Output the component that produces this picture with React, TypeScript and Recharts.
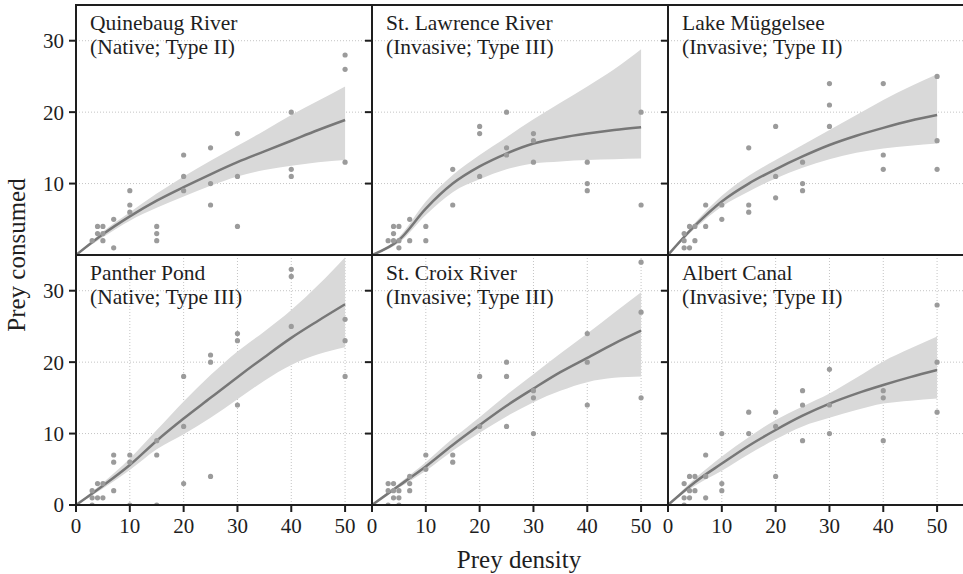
import React from "react";
import {
  ComposedChart,
  Area,
  Line,
  Scatter,
  XAxis,
  YAxis,
  CartesianGrid,
} from "recharts";

const FIT_X = [0, 5, 10, 15, 20, 25, 30, 35, 40, 45, 50];

const X_TICKS = [0, 10, 20, 30, 40, 50];
const Y_TICKS = [0, 10, 20, 30];

// Quinebaug River
const quinebaugPts: [number, number][] = [
  [3, 2], [4, 4], [4, 3], [5, 4], [5, 3], [5, 2], [7, 1], [7, 5],
  [10, 9], [10, 7], [10, 6], [15, 4], [15, 3], [15, 2],
  [20, 14], [20, 11], [20, 9], [25, 15], [25, 10], [25, 7],
  [30, 17], [30, 11], [30, 4], [40, 20], [40, 12], [40, 11],
  [50, 28], [50, 26], [50, 13],
];
const quinebaugMean = [0, 2.9, 5.4, 7.6, 9.5, 11.3, 13.0, 14.5, 16.0, 17.5, 18.9];
const quinebaugLo = [0, 2.5, 4.8, 6.6, 8.2, 9.7, 11.0, 11.9, 12.5, 13.0, 13.3];
const quinebaugHi = [0, 3.3, 6.0, 8.6, 11.0, 13.2, 15.3, 17.4, 19.6, 21.6, 23.6];

// St. Lawrence River
const lawrencePts: [number, number][] = [
  [3, 2], [4, 4], [4, 3], [4, 2], [5, 4], [5, 2], [5, 1], [7, 5], [7, 2],
  [10, 4], [10, 2], [15, 12], [15, 7], [20, 18], [20, 17], [20, 11],
  [25, 20], [25, 15], [25, 14], [30, 17], [30, 16], [30, 13],
  [40, 13], [40, 10], [40, 9], [50, 20], [50, 7],
];
const lawrenceMean = [0, 2.1, 6.5, 10.0, 12.4, 14.2, 15.6, 16.4, 17.0, 17.5, 17.9];
const lawrenceLo = [0, 1.7, 5.6, 8.8, 10.6, 12.0, 12.8, 13.1, 13.3, 13.4, 13.5];
const lawrenceHi = [0, 2.5, 7.5, 11.2, 14.0, 16.5, 19.0, 21.3, 23.6, 26.0, 28.8];

// Lake Müggelsee
const muggelPts: [number, number][] = [
  [3, 3], [3, 2], [3, 1], [4, 4], [4, 1], [5, 4], [5, 2], [7, 7], [7, 4],
  [10, 7], [10, 5], [15, 15], [15, 7], [15, 6], [20, 18], [20, 11], [20, 8],
  [25, 13], [25, 10], [25, 9], [30, 24], [30, 21], [30, 18],
  [40, 24], [40, 14], [40, 12], [50, 25], [50, 16], [50, 12],
];
const muggelMean = [0, 4.1, 7.5, 10.0, 12.0, 13.8, 15.4, 16.7, 17.8, 18.8, 19.6];
const muggelLo = [0, 3.7, 6.8, 8.9, 10.7, 12.2, 13.4, 14.3, 14.9, 15.3, 15.6];
const muggelHi = [0, 4.5, 8.3, 11.1, 13.3, 15.4, 17.5, 19.6, 21.7, 23.6, 25.3];

// Panther Pond
const pantherPts: [number, number][] = [
  [3, 2], [3, 1], [3, 0], [4, 3], [4, 1], [5, 3], [5, 1], [7, 7], [7, 6], [7, 2],
  [10, 7], [10, 6], [10, 0], [15, 9], [15, 7], [15, 0], [20, 18], [20, 11], [20, 3],
  [25, 21], [25, 20], [25, 4], [30, 24], [30, 23], [30, 14],
  [40, 33], [40, 32], [40, 25], [50, 26], [50, 23], [50, 18],
];
const pantherMean = [0, 2.7, 5.6, 9.0, 12.1, 15.0, 17.9, 20.7, 23.4, 25.8, 28.1];
const pantherLo = [0, 2.3, 4.9, 7.8, 9.9, 12.2, 14.8, 17.4, 19.6, 21.1, 22.1];
const pantherHi = [0, 3.1, 6.5, 10.5, 14.5, 18.2, 21.5, 24.3, 27.3, 30.8, 34.7];

// St. Croix River
const croixPts: [number, number][] = [
  [3, 3], [3, 2], [3, 0], [4, 3], [4, 2], [4, 1], [5, 2], [5, 1], [5, 0],
  [7, 4], [7, 3], [7, 2], [10, 7], [10, 5], [15, 7], [15, 6], [20, 18], [20, 11],
  [25, 20], [25, 18], [25, 11], [30, 16], [30, 15], [30, 10],
  [40, 24], [40, 20], [40, 14], [50, 34], [50, 27], [50, 15],
];
const croixMean = [0, 2.7, 5.4, 8.4, 11.2, 13.9, 16.3, 18.6, 20.6, 22.6, 24.4];
const croixLo = [0, 2.4, 4.8, 7.6, 10.1, 12.4, 14.4, 16.0, 17.2, 17.8, 18.0];
const croixHi = [0, 3.0, 6.0, 9.3, 12.3, 15.4, 18.3, 21.2, 24.0, 26.9, 29.8];

// Albert Canal
const albertPts: [number, number][] = [
  [3, 3], [3, 1], [3, 0], [4, 4], [4, 2], [4, 1], [5, 4], [5, 2], [7, 7], [7, 4], [7, 1],
  [10, 10], [10, 3], [10, 2], [15, 13], [15, 10], [20, 13], [20, 11], [20, 4],
  [25, 16], [25, 14], [25, 9], [30, 19], [30, 14], [30, 10],
  [40, 16], [40, 15], [40, 9], [50, 28], [50, 20], [50, 13],
];
const albertMean = [0, 3.2, 5.8, 8.3, 10.5, 12.5, 14.2, 15.6, 16.8, 17.9, 18.9];
const albertLo = [0, 2.7, 4.8, 7.1, 9.2, 11.0, 12.2, 13.3, 14.2, 14.6, 14.9];
const albertHi = [0, 3.7, 6.8, 9.5, 11.9, 13.8, 15.6, 17.8, 20.1, 21.9, 23.6];

const TITLES = [
  ["Quinebaug River", "(Native; Type II)"],
  ["St. Lawrence River", "(Invasive; Type III)"],
  ["Lake Müggelsee", "(Invasive; Type II)"],
  ["Panther Pond", "(Native; Type III)"],
  ["St. Croix River", "(Invasive; Type III)"],
  ["Albert Canal", "(Invasive; Type II)"],
];

const PANELS = [
  { pts: quinebaugPts, mean: quinebaugMean, lo: quinebaugLo, hi: quinebaugHi },
  { pts: lawrencePts, mean: lawrenceMean, lo: lawrenceLo, hi: lawrenceHi },
  { pts: muggelPts, mean: muggelMean, lo: muggelLo, hi: muggelHi },
  { pts: pantherPts, mean: pantherMean, lo: pantherLo, hi: pantherHi },
  { pts: croixPts, mean: croixMean, lo: croixLo, hi: croixHi },
  { pts: albertPts, mean: albertMean, lo: albertLo, hi: albertHi },
];

const FONT = "Liberation Serif, Times New Roman, serif";
const INK = "#1e1e1e";
const PLOT_LEFT = 76;
const PLOT_TOP = 5;
const PW = 296;
const PH = 250;

const Dot = (props: any) => (
  <circle cx={props.cx} cy={props.cy} r={2.6} fill="#9b9b9b" />
);

function Panel({ idx }: { idx: number }) {
  const row = Math.floor(idx / 3);
  const col = idx % 3;
  const p = PANELS[idx];
  const fit = FIT_X.map((x, i) => ({ x, mean: p.mean[i], band: [p.lo[i], p.hi[i]] }));
  const pts = p.pts.map(([x, y]) => ({ x, y }));
  const yW = col === 0 ? PLOT_LEFT : 10;
  const xH = row === 1 ? 45 : 0;
  const left = PLOT_LEFT + col * PW - yW;
  const top = PLOT_TOP + row * PH;
  const tickFont = { fontSize: 21, fill: INK, fontFamily: FONT };

  return (
    <div style={{ position: "absolute", left, top, fontFamily: FONT }}>
      <ComposedChart
        width={PW + yW}
        height={PH + xH}
        margin={{ top: 0, right: 0, bottom: 0, left: 0 }}
        style={{ fontFamily: FONT }}
      >
        <CartesianGrid stroke="#c4c4c4" strokeDasharray="1 2" />
        <XAxis
          type="number"
          dataKey="x"
          domain={[0, 55]}
          ticks={X_TICKS}
          allowDataOverflow
          height={xH}
          axisLine={false}
          tickLine={row === 1 ? { stroke: INK, strokeWidth: 2 } : false}
          tick={row === 1 ? tickFont : false}
          tickSize={7}
          tickMargin={6}
        />
        <YAxis
          type="number"
          domain={[0, 35]}
          ticks={Y_TICKS}
          allowDataOverflow
          width={yW}
          axisLine={false}
          tickLine={{ stroke: INK, strokeWidth: 2 }}
          tick={tickFont}
          tickFormatter={(v: number) => (col === 0 ? String(v) : "")}
          tickSize={7}
          tickMargin={5}
        />
        <Area
          data={fit}
          dataKey="band"
          type="monotone"
          stroke="none"
          fill="#d9d9d9"
          fillOpacity={1}
          isAnimationActive={false}
        />
        <Scatter data={pts} dataKey="y" shape={Dot} isAnimationActive={false} />
        <Line
          data={fit}
          dataKey="mean"
          type="monotone"
          stroke="#777777"
          strokeWidth={2.5}
          dot={false}
          isAnimationActive={false}
        />
      </ComposedChart>
      <div
        style={{
          position: "absolute",
          left: yW + 14,
          top: 6,
          fontFamily: FONT,
          fontSize: 21.5,
          lineHeight: "24px",
          color: INK,
          whiteSpace: "nowrap",
        }}
      >
        {TITLES[idx][0]}
        <br />
        {TITLES[idx][1]}
      </div>
      <div
        style={{
          position: "absolute",
          left: yW - 1,
          top: -1,
          width: PW + 2,
          height: PH + 2,
          border: `2.5px solid ${INK}`,
          borderRight: col === 2 ? "none" : `2.5px solid ${INK}`,
          boxSizing: "border-box",
        }}
      />
    </div>
  );
}

export default function App() {
  return (
    <div
      style={{
        position: "absolute",
        left: 0,
        top: 0,
        width: 963,
        height: 574,
        overflow: "hidden",
        background: "#fff",
        fontFamily: FONT,
      }}
    >
      {[0, 1, 2, 3, 4, 5].map((i) => (
        <Panel key={i} idx={i} />
      ))}
      <div
        style={{
          position: "absolute",
          left: 17,
          top: 255,
          transform: "translate(-50%, -50%) rotate(-90deg)",
          fontSize: 25,
          color: INK,
          whiteSpace: "nowrap",
        }}
      >
        Prey consumed
      </div>
      <div
        style={{
          position: "absolute",
          left: 519,
          top: 560,
          transform: "translate(-50%, -50%)",
          fontSize: 25,
          color: INK,
          whiteSpace: "nowrap",
        }}
      >
        Prey density
      </div>
    </div>
  );
}
